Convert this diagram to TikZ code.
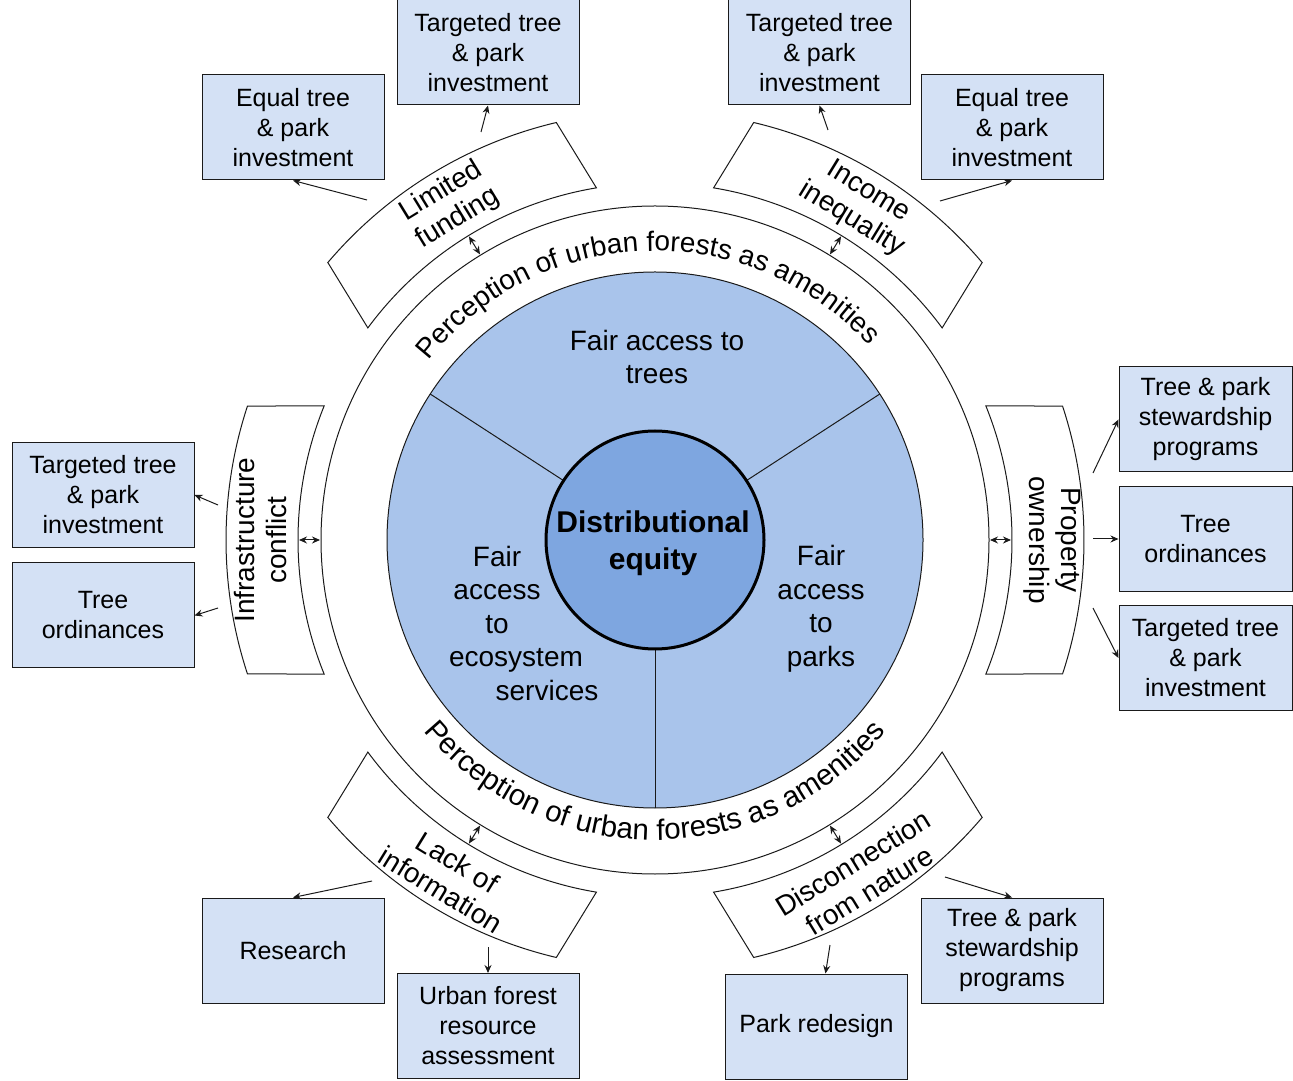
\documentclass[tikz,border=0pt]{standalone}
\usepackage{fontspec}
\setmainfont{Liberation Sans}
\usetikzlibrary{arrows.meta,decorations.text,calc}
\definecolor{boxfill}{HTML}{D4E1F5}
\definecolor{piefill}{HTML}{A9C4EB}
\definecolor{corefill}{HTML}{7EA6E0}
\definecolor{edge}{HTML}{1A1A1A}
\newcommand\ringfont{\fontsize{28}{28}\selectfont}
\newcommand\ringfontb{\fontsize{29.5}{29.5}\selectfont}
\newcommand\drawarcbox[1]{%
  \draw[arcshape] ($(C)+(#1+22.05:357)$) arc[start angle=#1+22.05, end angle=#1-22.05, radius=357]
    -- ($(C)+(#1-18.2:429)$) arc[start angle=#1-18.2, end angle=#1+18.2, radius=429] -- cycle;}
\begin{document}
\begin{tikzpicture}[x=1pt,y=1pt,
  actbox/.style={draw=edge, line width=1pt, fill=boxfill, minimum width=182pt, minimum height=105pt,
    inner sep=0pt, align=center, font=\fontsize{25}{30}\selectfont},
  arcshape/.style={draw=edge, line width=1pt, fill=white},
  arclabel/.style={align=center, font=\fontsize{28}{32}\selectfont, inner sep=0pt},
  pielab/.style={align=center, font=\fontsize{28}{33.5}\selectfont, inner sep=0pt},
  link/.style={draw=edge, line width=1pt, -{Stealth[length=8pt,width=7pt]}},
  duo/.style={draw=edge, line width=1pt, {Stealth[length=8pt,width=7pt]}-{Stealth[length=8pt,width=7pt]}}]
\useasboundingbox (0,0) rectangle (1293,1080);
\coordinate (C) at (655,540);

% rings
\draw[edge, line width=1pt, fill=white] (C) circle (334);
\fill[piefill] (C) circle (268);
\foreach \a in {147,33,270}{\draw[edge, line width=1pt] ($(C)+(\a:109)$) -- ($(C)+(\a:268)$);}
\draw[edge, line width=1pt] (C) circle (268);
\draw[black, line width=3pt, fill=corefill] (C) circle (109);
\node[align=center, inner sep=0pt, font=\fontsize{30}{37}\selectfont\bfseries] (core) at (653,537) {Distributional\\equity};

\node[pielab] (ptop) at (657,723) {Fair access to\\trees};
\node[pielab] (pleft) at (497,457) {Fair\\access\\to\\\hspace*{38pt}ecosystem\\\hspace*{100pt}services};
\node[pielab] (pright) at (821,471) {Fair\\access\\to\\parks};

\path[decorate, decoration={text along path, text align=center,
  text={|\ringfont|Perception of urban forests as amenities}}]
  ($(C)+(182:289)$) arc[start angle=182, end angle=2, radius=289];
\path[decorate, decoration={text along path, text align=center,
  text={|\ringfontb|Perception of urban forests as amenities}}]
  ($(C)+(180:300)$) arc[start angle=180, end angle=360, radius=300];

% barrier arc boxes
\drawarcbox{121.5}
\drawarcbox{58.5}
\drawarcbox{180}
\drawarcbox{0}
\drawarcbox{238.5}
\drawarcbox{301.5}
\node[arclabel, rotate=31.5] (lf) at ($(C)+(121.5:393)$) {Limited\\funding};
\node[arclabel, rotate=-31.5] (ii) at ($(C)+(58.5:392)$) {Income\\inequality};
\node[arclabel, rotate=90] (ic) at ($(C)+(180:394)$) {Infrastructure\\conflict};
\node[arclabel, rotate=-90] (po) at ($(C)+(0:397)$) {Property\\ownership};
\node[arclabel, rotate=-31.5] (li) at ($(C)+(238.5:394)$) {Lack of\\information};
\node[arclabel, rotate=31.5] (dn) at ($(C)+(301.5:395)$) {Disconnection\\from nature};

% double arrows ring <-> arc boxes
\foreach \a/\n in {121.5/u1,58.5/u2,180/u3,0/u4,238.5/u5,301.5/u6}{
  \coordinate (\n i) at ($(C)+(\a:335)$);
  \coordinate (\n o) at ($(C)+(\a:356)$);
  \draw[duo] (\n i) -- (\n o);}

% action boxes
\node[actbox] (b1) at (293,952.5) {Equal tree\\\& park\\investment};
\node[actbox] (b2) at (488,1027.5) {Targeted tree\\\& park\\investment};
\node[actbox] (b3) at (819.5,1027.5) {Targeted tree\\\& park\\investment};
\node[actbox] (b4) at (1012,952.5) {Equal tree\\\& park\\investment};
\node[actbox, minimum width=173pt] (b5) at (1205.5,660.5) {Tree \& park\\stewardship\\programs};
\node[actbox, minimum width=173pt] (b6) at (1205.5,541) {Tree\\ordinances};
\node[actbox, minimum width=173pt] (b7) at (1205.5,422) {Targeted tree\\\& park\\investment};
\node[actbox] (b8) at (103,585) {Targeted tree\\\& park\\investment};
\node[actbox] (b9) at (103,464.5) {Tree\\ordinances};
\node[actbox] (b10) at (293,129.5) {Research};
\node[actbox] (b11) at (488,54) {Urban forest\\resource\\assessment};
\node[actbox] (b12) at (816.5,53.5) {Park redesign};
\node[actbox] (b13) at (1012,129.5) {Tree \& park\\stewardship\\programs};

% arrows from barriers to actions
\coordinate (a1) at (367,880);
\coordinate (a2) at (481,948);
\coordinate (a3) at (828,950);
\coordinate (a4) at (940,879);
\coordinate (a5) at (1093,607);
\coordinate (a6) at (1093,541);
\coordinate (a7) at (1093,472);
\coordinate (a8) at (218,575);
\coordinate (a9) at (218,472);
\coordinate (a10) at (372,199);
\coordinate (a11) at (488,133);
\coordinate (a12) at (830,135);
\coordinate (a13) at (945,203);
\draw[link] (a1) -- (b1.south);
\draw[link] (a2) -- (b2.south);
\draw[link] (a3) -- (b3.south);
\draw[link] (a4) -- (b4.south);
\draw[link] (a5) -- (b5.west);
\draw[link] (a6) -- (b6.west);
\draw[link] (a7) -- (b7.west);
\draw[link] (a8) -- (b8.east);
\draw[link] (a9) -- (b9.east);
\draw[link] (a10) -- (b10.north);
\draw[link] (a11) -- (b11.north);
\draw[link] (a12) -- ([xshift=9pt]b12.north);
\draw[link] (a13) -- (b13.north);
\end{tikzpicture}
\end{document}
